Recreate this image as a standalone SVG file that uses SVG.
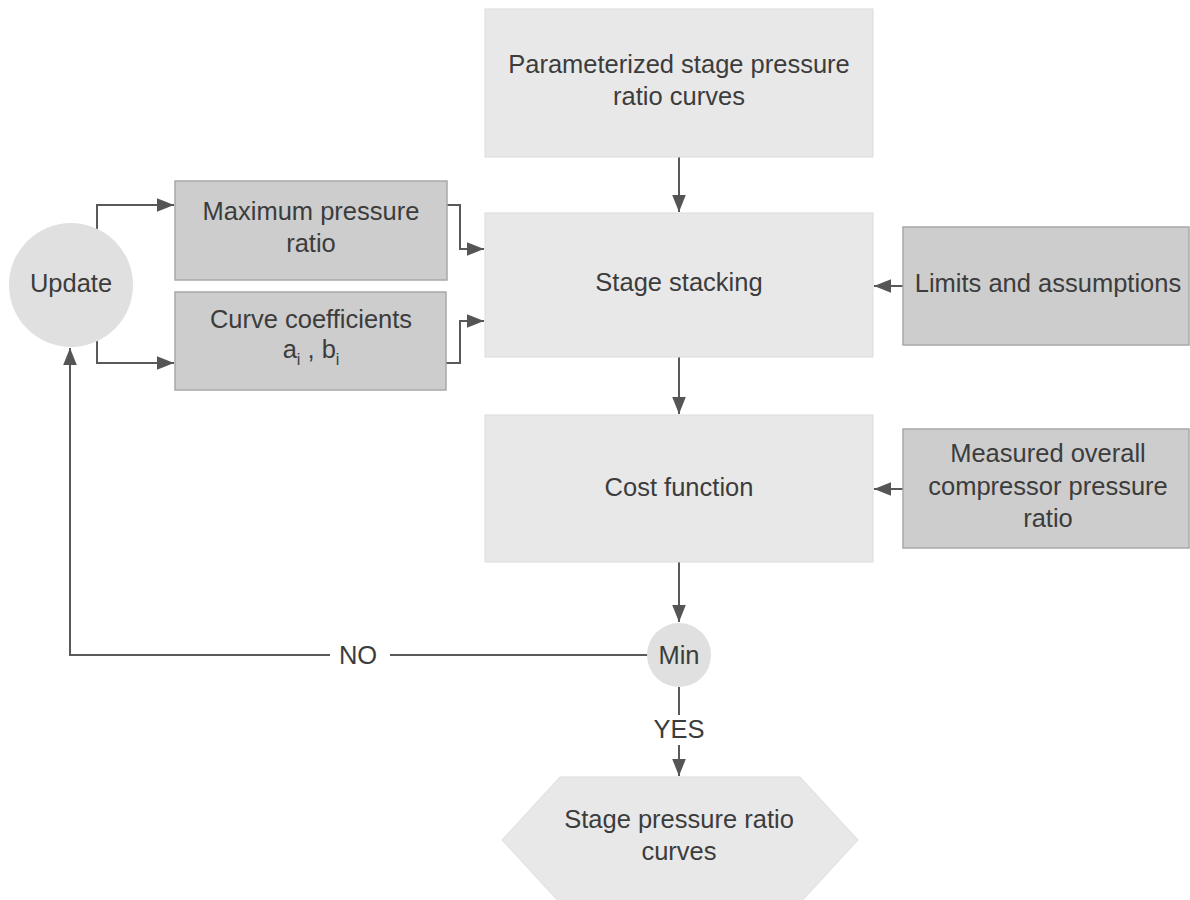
<svg xmlns="http://www.w3.org/2000/svg" width="1190" height="900" viewBox="0 0 1190 900">
<defs>
<style>
.main{fill:#e8e8e8;stroke:#dcdcdc;stroke-width:1}
.side{fill:#cdcdcd;stroke:#a8a8a8;stroke-width:1.5}
.circ{fill:#e0e0e0}
.t{font-family:"Liberation Sans",Arial,sans-serif;font-size:25.5px;fill:#3c3c3c;text-anchor:middle}
.sub{font-size:16px}
.c{fill:none;stroke:#595959;stroke-width:2}
</style>
<marker id="ah" viewBox="0 0 10 10" refX="10" refY="5" markerWidth="8.5" markerHeight="8.5" markerUnits="strokeWidth" orient="auto">
<path d="M0,1 L10,5 L0,9 z" fill="#555"/>
</marker>
</defs>
<rect width="1190" height="900" fill="#fff"/>
<g id="connectors">
<path class="c" d="M679,157 V212" marker-end="url(#ah)"/>
<path class="c" d="M679,357 V414" marker-end="url(#ah)"/>
<path class="c" d="M679,562 V622" marker-end="url(#ah)"/>
<path class="c" d="M903,286 H874" marker-end="url(#ah)"/>
<path class="c" d="M903,489 H874" marker-end="url(#ah)"/>
<path class="c" d="M97,231 V205 H174" marker-end="url(#ah)"/>
<path class="c" d="M97,341 V363 H174" marker-end="url(#ah)"/>
<path class="c" d="M447,205 H460 V249 H484" marker-end="url(#ah)"/>
<path class="c" d="M446,363 H460 V321 H484" marker-end="url(#ah)"/>
<path class="c" d="M648,655 H390 M330,655 H70 V348" marker-end="url(#ah)"/>
<path class="c" d="M679,687 V715 M679,745 V776" marker-end="url(#ah)"/>
<text class="t" x="358" y="664">NO</text>
<text class="t" x="679" y="738">YES</text>
</g>
<g id="node-param">
<rect class="main" x="485" y="9" width="388" height="148"/>
<text class="t" x="679" y="73">Parameterized stage pressure</text>
<text class="t" x="679" y="105">ratio curves</text>
</g>
<g id="node-stacking">
<rect class="main" x="485" y="213" width="388" height="144"/>
<text class="t" x="679" y="291">Stage stacking</text>
</g>
<g id="node-cost">
<rect class="main" x="485" y="415" width="388" height="147"/>
<text class="t" x="679" y="496">Cost function</text>
</g>
<g id="node-limits">
<rect class="side" x="903" y="227" width="286" height="118"/>
<text class="t" x="1048" y="292">Limits and assumptions</text>
</g>
<g id="node-measured">
<rect class="side" x="903" y="429" width="286" height="119"/>
<text class="t" x="1048" y="462">Measured overall</text>
<text class="t" x="1048" y="495">compressor pressure</text>
<text class="t" x="1048" y="527">ratio</text>
</g>
<g id="node-maxpr">
<rect class="side" x="175" y="181" width="272" height="99"/>
<text class="t" x="311" y="220">Maximum pressure</text>
<text class="t" x="311" y="252">ratio</text>
</g>
<g id="node-coeff">
<rect class="side" x="175" y="292" width="271" height="98"/>
<text class="t" x="311" y="328">Curve coefficients</text>
<text class="t" x="311" y="358">a<tspan class="sub" dy="7">i</tspan><tspan dy="-7"> , b</tspan><tspan class="sub" dy="7">i</tspan></text>
</g>
<g id="node-update">
<circle class="circ" cx="71" cy="285" r="62"/>
<text class="t" x="71" y="292">Update</text>
</g>
<g id="node-min">
<circle class="circ" cx="679" cy="655" r="32"/>
<text class="t" x="679" y="664">Min</text>
</g>
<g id="node-result">
<polygon class="main" points="560,777 800,777 858,840 800,903 560,903 502,840"/>
<text class="t" x="679" y="828">Stage pressure ratio</text>
<text class="t" x="679" y="860">curves</text>
</g>
</svg>
